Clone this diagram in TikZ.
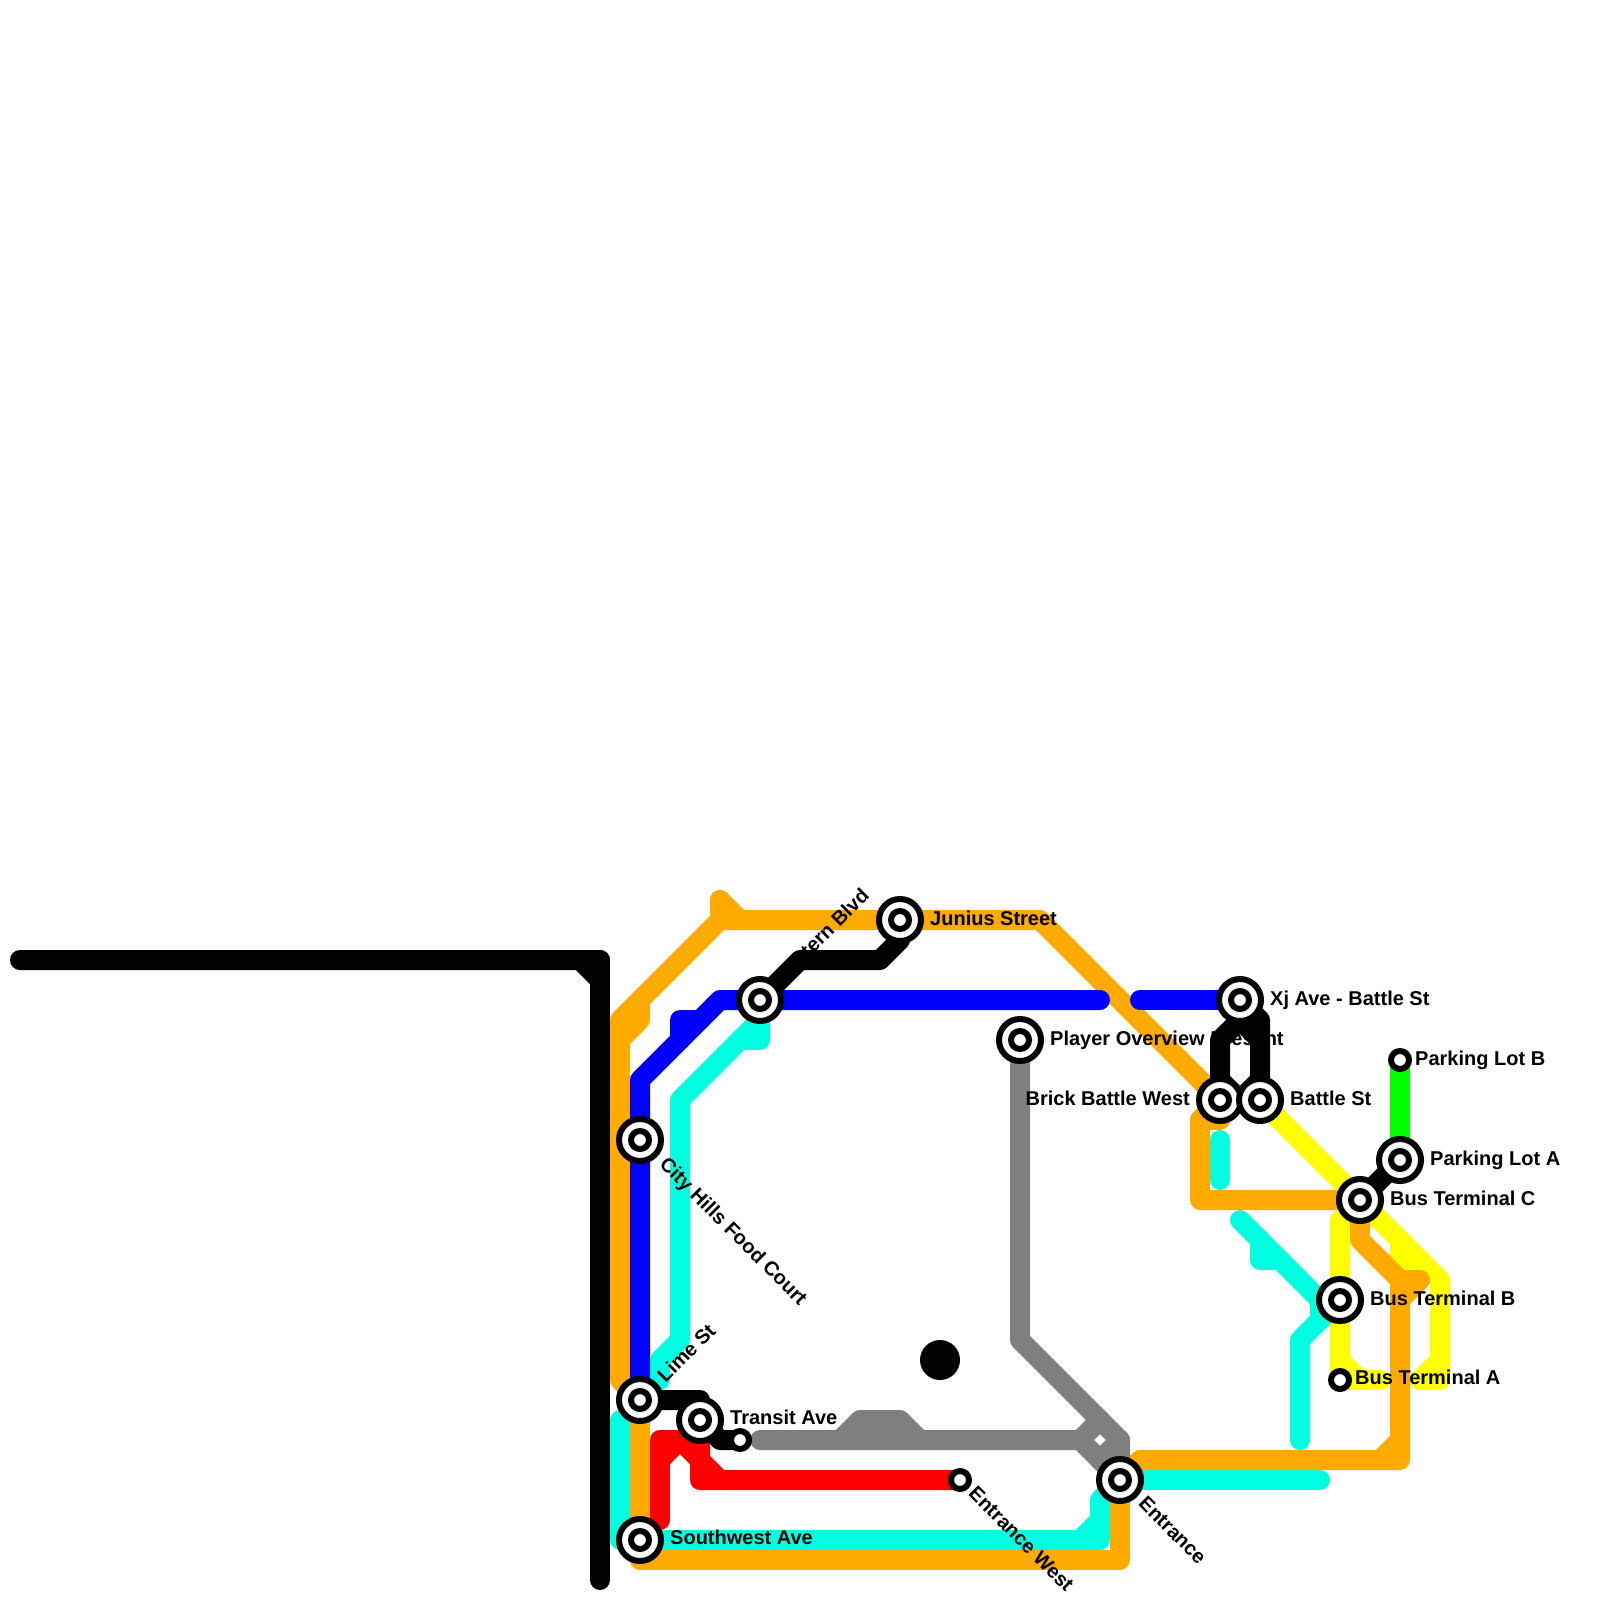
\documentclass[tikz,border=0pt]{standalone}
\usepackage{fontspec}
\setmainfont{Liberation Sans}
\usetikzlibrary{positioning,backgrounds}
\definecolor{lnorange}{HTML}{FFAA00}
\definecolor{lnaqua}{HTML}{00FFE0}
\definecolor{lngray}{HTML}{7F7F7F}
\definecolor{lngreen}{HTML}{00FF00}
\definecolor{lnyellow}{HTML}{FFFF00}
\definecolor{lnblue}{HTML}{0000FF}
\definecolor{lnred}{HTML}{FF0000}
\tikzset{
  metro/.style={line width=20pt, line cap=round, line join=round},
  yl/.style={metro, draw=lnyellow},
  aq/.style={metro, draw=lnaqua},
  og/.style={metro, draw=lnorange},
  bl/.style={metro, draw=lnblue},
  rd/.style={metro, draw=lnred},
  gy/.style={metro, draw=lngray},
  gn/.style={metro, draw=lngreen},
  bk/.style={metro, draw=black},
  stn/.style={circle, draw=black, fill=white, line width=6pt, minimum size=42pt, inner sep=0pt},
  core/.style={circle, draw=black, fill=white, line width=6pt, minimum size=18pt, inner sep=0pt},
  lbl/.style={font=\fontsize{20}{22}\selectfont\bfseries, inner sep=0pt, text=black, text height=14.3pt, text depth=4.2pt},
}
\begin{document}
\begin{tikzpicture}[x=1pt, y=-1pt]
\useasboundingbox (0,0) rectangle (1600,1600);

%% ---- stations, big ones first
\foreach \n/\x/\y in {city/640/1140, lime/640/1400, southwest/640/1540, transit/700/1420,
    eastern/760/1000, junius/900/920, player/1020/1040, entrance/1120/1480, xj/1240/1000,
    brick/1220/1100, battle/1260/1100, parka/1400/1160, busc/1360/1200, busb/1340/1300} {
  \node[stn] (\n) at (\x,\y) {};
  \node[core] (\n core) at (\n) {};
}
%% ---- small ones
\node[core] (transitend) at (740,1440) {};
\node[core] (entrancew) at (960,1480) {};
\node[core] (parkb) at (1400,1060) {};
\node[core] (busa) at (1340,1380) {};
\node[circle, fill=black, minimum size=40pt, inner sep=0pt] (blackdot) at (940,1360) {};

%% ---- the lines go under the stations
\begin{scope}[on background layer]
\draw[yl] (battle.center) -- (busc.center) -- (1440,1280) -- (1440,1380) -- (1420,1380);
\draw[yl] (1440,1360) -- (1420,1380);
\draw[yl] (1340,1220) -- (busb.center) -- (busa.center) -- (1380,1380);
\draw[yl] (1340,1360) -- (1360,1380);
\draw[yl] (1400,1240) -- (1400,1260) -- (1420,1260);

\draw[aq] (620,1420) -- (620,1540) -- (southwest.center) -- (1100,1540) -- (1100,1500) -- (entrance.center);
\draw[aq] (1080,1540) -- (1100,1520);
\draw[aq] (entrance.center) -- (1320,1480);
\draw[aq] (660,1380) -- (660,1360) -- (680,1340) -- (680,1100) -- (760,1020) -- (eastern.center);
\draw[aq] (740,1040) -- (760,1040) -- (760,1020);
\draw[aq] (1220,1140) -- (1220,1180);
\draw[aq] (1240,1220) -- (1320,1300) -- (busb.center);
\draw[aq] (1260,1240) -- (1260,1260) -- (1280,1260);
\draw[aq] (1320,1300) -- (1320,1320);
\draw[aq] (busb.center) -- (1300,1340) -- (1300,1440);

\draw[og] (brick.center) -- (1040,920) -- (junius.center) -- (720,920) -- (620,1020) -- (620,1380) -- (lime.center);
\draw[og] (720,900) -- (720,920);
\draw[og] (720,900) -- (740,920);
\draw[og] (640,1000) -- (640,1020) -- (620,1040);
\draw[og] (lime.center) -- (southwest.center) -- (640,1560) -- (1120,1560) -- (entrance.center);
\draw[og] (entrance.center) -- (1140,1460) -- (1400,1460) -- (1400,1280) -- (1360,1240) -- (busc.center);
\draw[og] (1380,1460) -- (1400,1440);
\draw[og] (1400,1300) -- (1420,1280) -- (1400,1280);
\draw[og] (busc.center) -- (1200,1200) -- (1200,1120) -- (brick.center);
\draw[og] (1200,1120) -- (1220,1120);

\draw[bl] (lime.center) -- (city.center) -- (640,1080) -- (720,1000) -- (eastern.center) -- (1100,1000);
\draw[bl] (700,1020) -- (680,1020) -- (680,1040);
\draw[bl] (1140,1000) -- (xj.center);

\draw[rd] (660,1520) -- (660,1440) -- (700,1440);
\draw[rd] (660,1460) -- (680,1440) -- (700,1460) -- (700,1480) -- (entrancew.center);
\draw[rd] (transit.center) -- (700,1460) -- (720,1480);

\draw[gy] (player.center) -- (1020,1340) -- (1120,1440) -- (entrance.center);
\draw[gy] (760,1440) -- (1080,1440) -- (entrance.center);
\draw[gy] (840,1440) -- (860,1420) -- (900,1420) -- (920,1440);
\draw[gy] (1080,1440) -- (1100,1420);
\draw[gy] (1120,1440) -- (1100,1460);

\draw[gn] (parkb.center) -- (parka.center);

\draw[bk] (20,960) -- (580,960) -- (600,980);
\draw[bk] (600,960) -- (600,1580);
\draw[bk] (580,960) -- (600,960);
\draw[bk] (lime.center) -- (700,1400) -- (transit.center) -- (720,1440) -- (transitend.center);
\draw[bk] (eastern.center) -- (800,960) -- (880,960) -- (900,940) -- (junius.center);
\draw[bk] (xj.center) -- (1240,1020) -- (1220,1040) -- (brick.center);
\draw[bk] (xj.center) -- (1260,1020) -- (battle.center);
\draw[bk] (1240,1020) -- (1260,1040);
\draw[bk] (1220,1080) -- (1240,1100) -- (1260,1080);
\draw[bk] (busc.center) -- (parka.center);
\end{scope}

%% ---- names
\node[lbl, right=6pt of junius] (juniuslbl) {Junius Street};
\node[lbl, right=6pt of xj] (xjlbl) {Xj Ave - Battle St};
\node[lbl, right=6pt of player] (playerlbl) {Player Overview Present};
\node[lbl, left=6pt of brick] (bricklbl) {Brick Battle West};
\node[lbl, right=6pt of battle] (battlelbl) {Battle St};
\node[lbl, right=3pt of parkb] (parkblbl) {Parking Lot B};
\node[lbl, right=6pt of parka] (parkalbl) {Parking Lot A};
\node[lbl, right=6pt of busc] (busclbl) {Bus Terminal C};
\node[lbl, right=6pt of busb] (busblbl) {Bus Terminal B};
\node[lbl, right=3pt of busa, yshift=1pt] (busalbl) {Bus Terminal A};
\node[lbl, right=6pt of southwest, yshift=1pt] (southwestlbl) {Southwest Ave};
\node[lbl, anchor=west] (transitlbl) at (730,1419) {Transit Ave};
\node[lbl, xshift=20pt, yshift=20pt, rotate=45, anchor=west] (easternlbl) at (eastern.center) {Eastern Blvd};
\node[lbl, xshift=22pt, yshift=20pt, rotate=45, anchor=west] (limelbl) at (lime.center) {Lime St};
\node[lbl, xshift=22pt, yshift=-22pt, rotate=-45, anchor=west] (citylbl) at (city.center) {City Hills Food Court};
\node[lbl, xshift=21pt, yshift=-21pt, rotate=-45, anchor=west] (entrancelbl) at (entrance.center) {Entrance};
\node[lbl, xshift=11pt, yshift=-11pt, rotate=-45, anchor=west] (entrancewlbl) at (entrancew.center) {Entrance West};
\end{tikzpicture}
\end{document}
